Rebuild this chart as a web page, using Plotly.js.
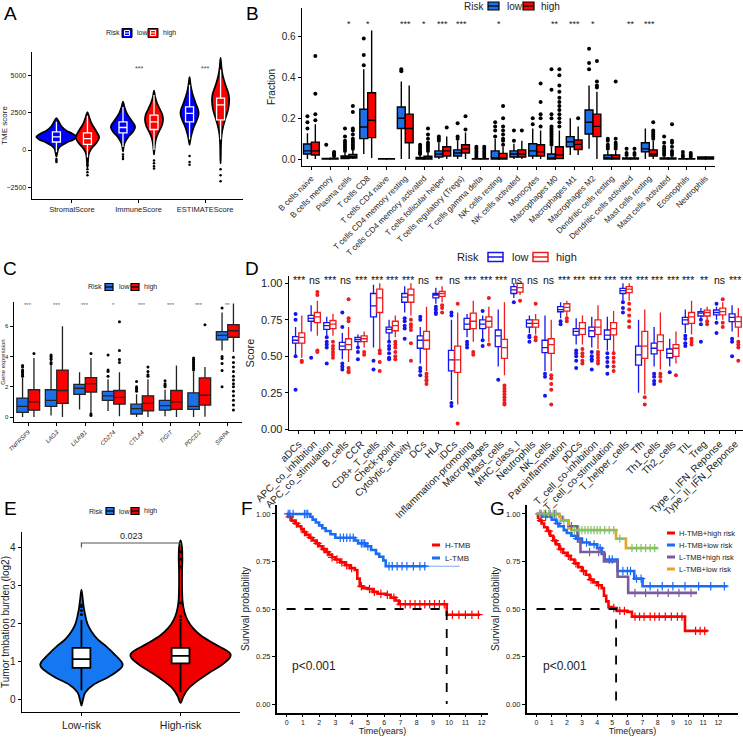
<!DOCTYPE html>
<html>
<head>
<meta charset="utf-8">
<script src="https://cdn.plot.ly/plotly-3.0.1.min.js"></script>
<style>
html, body { margin: 0; padding: 0; background: #fff; }
#fig { width: 743px; height: 738px; }
</style>
</head>
<body>
<div id="fig"></div>
<script>
// ---------- A: TME scores (violin profiles) ----------
const aCats = ['StromalScore', 'ImmuneScore', 'ESTIMATEScore'];
const aLowLevels = [
  [2150, 1900, 1600, 1300, 1100, 900, 700, 500, 300, 100, -200, -450],
  [3250, 2900, 2500, 2100, 1700, 1500, 1200, 900, 500, 200, -100],
  [4900, 4400, 3800, 3200, 2700, 2400, 2000, 1500, 1000, 600, 350]
];
const aLowDens = [
  [0, .12, .25, .5, .8, 1, .85, .5, .25, .1, .04, 0],
  [0, .07, .18, .36, .57, .6, .48, .27, .09, .03, 0],
  [0, .05, .14, .29, .43, .45, .36, .2, .09, .03, 0]
];
const aHighLevels = [
  [2550, 2200, 1800, 1400, 1000, 800, 500, 200, 0, -300, -700, -1200],
  [4000, 3600, 3200, 2800, 2400, 2000, 1600, 1200, 800, 400, 0, -300],
  [6200, 5600, 5000, 4400, 3800, 3400, 2800, 2200, 1600, 1000, 300, -400, -900]
];
const aHighDens = [
  [0, .09, .2, .38, .55, .58, .46, .26, .15, .06, .03, 0],
  [0, .05, .14, .27, .41, .45, .38, .23, .11, .05, .02, 0],
  [0, .04, .11, .24, .39, .43, .39, .26, .13, .05, .02, .01, 0]
];
const aLowQ1 = [540, 1150, 1900], aLowMed = [880, 1515, 2460], aLowQ3 = [1220, 1900, 2900];
const aLowLo = [-150, 200, 700], aLowHi = [1900, 2900, 4400];
const aHighQ1 = [385, 1380, 2030], aHighMed = [770, 1900, 3040], aHighQ3 = [1150, 2350, 3500];
const aHighLo = [-500, 0, 700], aHighHi = [2300, 3700, 5400];
const aLowOut = [[-600, -700, -800], [-300, -450, -600], [-400, -800, -1000]];
const aHighOut = [[-1050, -1300, -1500, -1700], [-700, -900, -1100, -1250], [-1300, -1700, -2100]];
const aSig = ['', '***', '***'];

// ---------- B: CIBERSORT fractions ----------
const bCats = ['B cells naive', 'B cells memory', 'Plasma cells', 'T cells CD8', 'T cells CD4 naive',
  'T cells CD4 memory resting', 'T cells CD4 memory activated', 'T cells follicular helper',
  'T cells regulatory (Tregs)', 'T cells gamma delta', 'NK cells resting', 'NK cells activated',
  'Monocytes', 'Macrophages M0', 'Macrophages M1', 'Macrophages M2', 'Dendritic cells resting',
  'Dendritic cells activated', 'Mast cells resting', 'Mast cells activated', 'Eosinophils', 'Neutrophils'];
const bSig = ['', '', '*', '*', '', '***', '*', '***', '***', '', '*', '', '', '**', '***', '*', '', '**', '***', '', '', ''];
const bLowQ1 = [.025, 0, .003, .1, 0, .15, 0, .01, .015, 0, 0, .01, .015, 0, .06, .123, 0, 0, .036, 0, 0, 0];
const bLowMed = [.04, 0, .008, .157, 0, .2, .002, .025, .03, 0, .005, .025, .04, .005, .085, .18, .005, 0, .05, 0, 0, .002];
const bLowQ3 = [.074, .003, .015, .244, .002, .255, .008, .04, .045, .002, .04, .04, .075, .025, .11, .24, .02, .005, .08, .005, .002, .01];
const bLowLo = [0, 0, 0, .025, 0, 0, 0, 0, 0, 0, 0, 0, 0, 0, .02, .05, 0, 0, 0, 0, 0, 0];
const bLowHi = [.126, .006, .03, .44, .003, .38, .018, .08, .09, .005, .1, .075, .15, .06, .2, .36, .04, .01, .15, .01, .004, .012];
const bLowOut = [[.15, .18, .21], [.07], [.04, .05, .06, .07, .08, .09, .11, .15], [.46, .51, .59], [],
  [.43, .44], [.025, .03, .035, .04, .05, .06, .07], [.09, .1, .11], [.1, .11, .175], [.01, .02, .03, .04, .05, .06],
  [.11, .14, .16, .18], [.09, .14], [.17, .2], [.07, .08, .09, .1, .11, .12, .13, .14, .15, .16, .2, .22, .34, .44],
  [], [.44, .47, .54], [.05, .06, .07, .09, .1], [.02, .03, .05], [], [.02, .03, .04, .05, .06, .08, .11],
  [.01, .02, .035], []];
const bHighQ1 = [.02, 0, .005, .105, 0, .08, 0, .015, .03, 0, 0, .01, .015, .003, .047, .11, 0, 0, .015, 0, 0, 0];
const bHighMed = [.04, 0, .012, .19, 0, .15, .004, .04, .05, 0, .005, .025, .035, .02, .072, .16, .005, 0, .025, 0, 0, .002];
const bHighQ3 = [.083, .004, .022, .325, .002, .22, .014, .06, .07, .002, .028, .045, .07, .06, .093, .22, .02, .005, .045, .005, .002, .01];
const bHighLo = [0, 0, 0, .005, 0, 0, 0, 0, 0, 0, 0, 0, 0, 0, .02, 0, 0, 0, 0, 0, 0, 0];
const bHighHi = [.17, .01, .045, .63, .003, .36, .03, .11, .13, .005, .06, .09, .14, .14, .16, .33, .04, .01, .09, .01, .004, .012];
const bHighOut = [[.19, .22, .32, .505], [.015, .02, .025, .03, .035], [.05, .06, .07, .08, .09, .1, .12, .14, .15, .23, .26], [], [],
  [], [.04, .05, .06, .07, .08, .1, .12, .15], [.155], [.145, .21], [.01, .02, .03, .04, .05, .06],
  [.07, .09, .1, .12, .14, .16, .2, .26], [.14], [.16, .2, .22, .28, .37],
  [.16, .18, .2, .22, .24, .26, .28, .3, .33, .36, .41, .44], [.2], [.35, .36, .38, .48],
  [.05, .06, .07, .08, .1, .38], [.02, .03, .05], [.1, .11, .12, .13, .14, .18], [.02, .03, .04, .06, .08, .09, .17],
  [.01, .02, .03], []];

// ---------- C: immune checkpoint gene expression ----------
const cCats = ['TNFRSF9', 'LAG3', 'LILRB1', 'CD274', 'CTLA4', 'TIGIT', 'PDCD1', 'SIRPA'];
const cSig = ['***', '***', '***', '*', '***', '***', '***', '**'];
const cLowQ1 = [.3, .7, 1.5, 1.1, .2, .45, .5, 5.1];
const cLowMed = [.7, 1.1, 1.9, 1.4, .55, .75, .7, 5.4];
const cLowQ3 = [1.25, 1.8, 2.15, 1.7, .85, 1.1, 1.6, 5.64];
const cLowLo = [0, .1, .5, .4, 0, .05, 0, 4.4];
const cLowHi = [2.6, 3.4, 2.95, 2.5, 1.5, 1.8, 3.0, 6.9];
const cLowOut = [[2.7, 2.8, 2.9, 3.0, 3.1, 3.3, 3.4], [3.5, 3.6, 3.8, 3.9, 4.0, 4.1], [], [2.7, 3.0, 3.1, 4.1],
  [1.7, 1.8, 1.9, 2.0, 2.35], [2.0, 2.1, 2.2, 2.4], [3.1, 3.2, 3.3, 3.4, 3.5, 3.6, 3.7, 3.8, 3.9],
  [7.2, 4.0, 3.87, 3.54, 3.08, 2.0]];
const cHighQ1 = [.45, .9, 1.65, .85, .4, .5, .79, 5.27];
const cHighMed = [1.0, 1.75, 2.2, 1.3, .9, 1.0, 1.44, 5.7];
const cHighQ3 = [1.8, 3.1, 2.6, 1.75, 1.4, 1.75, 2.58, 6.1];
const cHighLo = [0, 0, .25, .05, 0, 0, .02, 4.3];
const cHighHi = [3.9, 6.0, 3.9, 2.95, 2.5, 3.4, 3.3, 7.5];
const cHighOut = [[4.2], [], [4.2, .1, .2], [3.6, 3.8, 4.4, 6.3], [2.7, 2.8, 3.0, 3.3], [], [6.1],
  [3.95, 3.6, 3.3, 3.0, 2.7, 2.45, 2.2, 2.0, 1.7, 1.4, 1.1, .8, .46]];

// ---------- D: ssGSEA scores ----------
const dCats = ['aDCs', 'APC_co_inhibition', 'APC_co_stimulation', 'B_cells', 'CCR', 'CD8+_T_cells',
  'Check-point', 'Cytolytic_activity', 'DCs', 'HLA', 'iDCs', 'Inflammation-promoting', 'Macrophages',
  'Mast_cells', 'MHC_class_I', 'Neutrophils', 'NK_cells', 'Parainflammation', 'pDCs',
  'T_cell_co-inhibition', 'T_cell_co-stimulation', 'T_helper_cells', 'Tfh', 'Th1_cells', 'Th2_cells',
  'TIL', 'Treg', 'Type_I_IFN_Reponse', 'Type_II_IFN_Reponse'];
const dSig = ['***', 'ns', '***', 'ns', '***', '***', '***', '***', 'ns', '**', 'ns', '***', '***', '***',
  'ns', 'ns', 'ns', '***', '***', '***', '***', '***', '***', '***', '***', '***', '**', 'ns', '***'];
const dLowQ1 = [.59, .74, .685, .545, .60, .77, .66, .87, .555, .90, .40, .685, .69, .566, .93, .70, .525, .805, .645, .635, .616, .93, .44, .516, .49, .72, .776, .783, .737];
const dLowMed = [.61, .76, .71, .57, .615, .845, .685, .905, .61, .92, .475, .72, .72, .64, .955, .725, .56, .82, .67, .675, .645, .95, .51, .555, .52, .75, .795, .80, .767];
const dLowQ3 = [.635, .78, .73, .595, .63, .93, .70, .93, .64, .93, .54, .76, .75, .68, .977, .75, .61, .84, .69, .70, .68, .965, .57, .59, .55, .767, .806, .817, .79];
const dLowLo = [.51, .67, .64, .48, .57, .56, .61, .80, .45, .86, .20, .63, .62, .43, .90, .66, .40, .76, .58, .56, .54, .88, .25, .43, .43, .66, .76, .75, .67];
const dLowHi = [.70, .85, .77, .66, .65, .99, .75, .98, .70, .97, .75, .79, .78, .82, 1.0, .78, .78, .87, .76, .77, .77, 1.0, .75, .70, .62, .82, .83, .84, .85];
const dLowOut = [[.79, .75, .50, .27], [.49], [.63, .60, .58, .56, .45], [.80, .70, .45, .43, .41], [.56, .53, .48],
  [.47, .41], [.60, .57, .55, .52, .49, .48], [.76, .74, .71, .69, .62], [.77, .75, .42, .40, .37], [.84, .82, .80, .79],
  [.80, .78, .18, .16], [.60, .58, .56], [.81, .61, .57], [.34], [.87], [.64, .63, .60], [.38, .36, .23], [.74, .72],
  [.54, .52, .50, .47, .42], [.53, .50, .48, .47, .41], [.52, .49, .46, .43, .38], [.87, .83, .80], [],
  [.38, .36, .33, .31], [.39], [.64, .62, .59, .57], [.75, .72, .60], [.86, .73, .66], [.62, .60, .50]];
const dHighQ1 = [.59, .73, .69, .545, .60, .80, .675, .87, .55, .91, .39, .69, .70, .486, .94, .70, .52, .81, .65, .65, .646, .936, .486, .54, .50, .726, .776, .783, .70];
const dHighMed = [.63, .77, .72, .58, .62, .90, .71, .92, .61, .93, .475, .74, .74, .56, .97, .725, .58, .835, .69, .70, .69, .96, .57, .60, .555, .77, .80, .806, .737];
const dHighQ3 = [.66, .80, .745, .62, .64, .96, .74, .96, .67, .945, .57, .795, .77, .616, 1.0, .75, .62, .86, .73, .75, .73, .977, .67, .646, .58, .80, .816, .83, .77];
const dHighLo = [.49, .64, .64, .46, .56, .55, .63, .78, .40, .87, .17, .60, .60, .37, .92, .65, .40, .77, .58, .55, .53, .88, .24, .41, .45, .65, .75, .75, .63];
const dHighHi = [.78, .88, .79, .70, .67, 1.0, .78, 1.0, .84, .98, .80, .88, .84, .87, 1.0, .79, .75, .88, .78, .85, .81, 1.0, .82, .80, .67, .88, .84, .87, .83];
const dHighOut = [[.47, .46], [.94, .92, .54, .53], [.60, .57, .55, .53, .51, .49], [.89, .76, .74, .42, .40, .39], [.53, .51],
  [.54, .52, .46, .40], [.60, .58, .56, .53, .50, .48], [.75, .72, .70, .68, .59, .47], [.38, .36, .34, .33, .31], [.85, .83, .80],
  [.86, .04], [.53, .51], [.90, .58], [.30, .28, .26, .24, .22, .20, .18, .17], [.88], [.86, .63, .61],
  [.37, .35, .31, .27, .17], [.76, .74], [.55, .52, .50, .47, .45], [.53, .51, .49, .47, .45], [.52, .49, .46, .43, .40],
  [.86, .82, .78, .74, .70], [.22, .17], [.38, .36, .33], [.37], [.62, .60, .58], [.74, .72], [.89, .73, .70],
  [.60, .58, .56, .47]];

// ---------- E: tumor mutation burden ----------
const eCats = ['Low-risk', 'High-risk'];
const eLowLevels = [2.9, 2.6, 2.4, 2.2, 2.0, 1.8, 1.6, 1.4, 1.2, 1.0, 0.9, 0.8, 0.6, 0.4, 0.2, 0, -0.15];
const eLowDens = [0, .03, .05, .08, .12, .2, .32, .5, .66, .8, .82, .76, .54, .24, .08, .03, 0];
const eHighLevels = [4.2, 4.0, 3.7, 3.4, 3.0, 2.6, 2.3, 2.1, 1.9, 1.7, 1.5, 1.3, 1.2, 1.1, 0.9, 0.7, 0.5, 0.3, 0.1, -0.08];
const eHighDens = [0, .03, .036, .03, .03, .04, .08, .14, .24, .4, .64, .92, 1, .98, .8, .56, .34, .16, .06, 0];
const eQ1 = [.84, .96], eMed = [1.07, 1.16], eQ3 = [1.37, 1.37], eLo = [.25, .2], eHi = [2.1, 2.05];
const eOut = [[2.25, 2.35, 2.45, 2.5], [2.1, 2.2, 2.55, 3.5, 3.7, 3.9, 4.05]];
const ePValue = '0.023';
const eBracketY = 4.13;

// ---------- F: KM by TMB ----------
const fNames = ['H-TMB', 'L-TMB'];
const fHighT = [0, .1, .3, .5, .7, .9, 1.0, 1.2, 1.4, 1.6, 1.8, 2.0, 2.2, 2.4, 2.6, 2.8, 3.0, 3.3, 3.6, 3.9, 4.2, 4.35, 4.5, 4.7, 5.0, 5.3, 5.6, 6.1, 6.4, 6.7, 6.9, 9.85, 11.9];
const fHighS = [1, .985, .965, .95, .935, .92, .905, .89, .875, .86, .845, .83, .815, .8, .785, .772, .76, .745, .73, .715, .705, .66, .62, .61, .605, .59, .58, .575, .56, .545, .525, .47, .47];
const fLowT = [0, 1.45, 1.6, 1.8, 2.0, 2.2, 2.4, 2.7, 3.0, 4.2, 4.4, 4.9, 5.2, 5.5, 5.7, 5.95, 6.1, 8.6];
const fLowS = [1, .985, .97, .955, .94, .925, .91, .893, .875, .86, .845, .83, .81, .79, .775, .755, .725, .725];
const fLowLastT = 10.65;
const fHighCens = [.2, .6, 1.1, 1.5, 1.9, 2.3, 2.5, 2.8, 3.1, 3.4, 3.7, 4.0, 4.6, 5.1, 5.4, 5.8, 6.2, 6.6, 7.0, 7.3, 7.6, 7.9, 8.2, 8.5, 8.8, 9.1, 9.4, 9.7, 10.2, 10.6, 11.0, 11.4, 11.8];
const fLowCens = [.1, .2, .4, 1.1, 1.2, 1.3, 3.3, 3.5, 3.7, 3.9, 4.1, 4.6, 4.7, 4.8, 5.0, 6.3, 6.5, 6.8, 7.1, 7.4, 7.8, 8.2, 8.5];
const fMedian = 9.85;

// ---------- G: KM by TMB + risk ----------
const gNames = ['H-TMB+high risk', 'H-TMB+low risk', 'L-TMB+high risk', 'L-TMB+low risk'];
const gRedT = [0, .1, .2, .35, .5, .7, .9, 1.1, 1.3, 1.5, 1.75, 2.0, 2.25, 2.5, 2.75, 3.0, 3.25, 3.5, 3.75, 4.0, 4.3, 4.45, 4.6, 4.75, 5.0, 5.3, 6.0, 6.3, 9.8, 11.3];
const gRedS = [1, .98, .965, .95, .93, .91, .885, .86, .84, .815, .795, .78, .76, .74, .72, .70, .68, .655, .64, .625, .61, .57, .54, .51, .505, .49, .485, .46, .385, .385];
const gBlueT = [0, .4, 1.0, 1.3, 1.5, 1.8, 2.0, 2.3, 2.6, 3.0, 3.5, 4.0, 4.3, 4.5, 5.35, 6.45, 7.0, 12.6];
const gBlueS = [1, .985, .97, .95, .935, .915, .9, .885, .87, .85, .84, .82, .79, .76, .70, .66, .62, .62];
const gPurpleT = [0, 1.5, 1.7, 2.1, 2.7, 2.75, 2.9, 4.45, 5.35, 6.05, 10.6];
const gPurpleS = [1, .985, .965, .935, .9, .855, .80, .75, .67, .585, .585];
const gOrangeT = [0, 1.5, 1.6, 2.1, 2.3, 5.25, 5.9, 8.0];
const gOrangeS = [1, .985, .965, .925, .915, .87, .82, .82];
const gRedCens = [.3, .8, 1.2, 1.6, 2.1, 2.6, 3.1, 3.6, 4.1, 5.1, 5.5, 5.8, 6.5, 6.8, 7.1, 7.5, 7.8, 8.1, 8.5, 8.9, 9.3, 9.6, 10.5, 10.8, 11.1];
const gBlueCens = [.2, .6, 1.4, 2.7, 3.3, 3.8, 4.2, 4.8, 5.0, 5.7, 6.0, 6.2, 6.6, 6.9, 7.5, 8.3, 9.0, 9.8, 10.7, 11.5, 12.4];
const gPurpleCens = [.3, .6, .9, 1.2, 2.3, 3.5, 4.1, 6.5, 7.2, 8.0, 8.7, 9.4, 10.2];
const gOrangeCens = [.2, .5, .8, 1.1, 1.3, 1.8, 2.5, 2.8, 3.0, 3.2, 3.4, 3.6, 3.8, 4.0, 4.2, 4.5, 4.8, 5.1, 5.5, 6.3, 6.6, 6.9, 7.2, 7.5, 7.8];
const gMedian = 5.25;
const pText = 'p<0.001';

// ---------- helpers ----------
const W = 743, H = 738;
const FONT = 'Liberation Sans, Arial, sans-serif';
const px = (a, b) => [a / W, b / W];
const py = (top, bottom) => [1 - bottom / H, 1 - top / H];
const shapes = [];
const annotations = [];

// violin outline as a smooth closed path in data coordinates (drawn under the boxes)
function violinShape(center, levels, dens, scale, xa, ya, fill, lw) {
  let pts = [];
  levels.forEach((v, i) => pts.push([center + dens[i] * scale, v]));
  for (let i = levels.length - 1; i >= 0; i--) pts.push([center - dens[i] * scale, levels[i]]);
  pts = pts.filter((p, i) => { const q = pts[(i + 1) % pts.length]; return !(q[0] === p[0] && q[1] === p[1]); });
  const n = pts.length;
  let d = 'M' + pts[0][0] + ',' + pts[0][1];
  for (let i = 0; i < n; i++) {
    const p0 = pts[(i - 1 + n) % n], p1 = pts[i], p2 = pts[(i + 1) % n], p3 = pts[(i + 2) % n];
    const c1 = [p1[0] + (p2[0] - p0[0]) / 6, p1[1] + (p2[1] - p0[1]) / 6];
    const c2 = [p2[0] - (p3[0] - p1[0]) / 6, p2[1] - (p3[1] - p1[1]) / 6];
    d += ' C' + c1[0] + ',' + c1[1] + ' ' + c2[0] + ',' + c2[1] + ' ' + p2[0] + ',' + p2[1];
  }
  shapes.push({type: 'path', xref: xa, yref: ya, path: d + ' Z', fillcolor: fill,
    line: {color: 'black', width: lw}, layer: 'below'});
}

function boxes(pos, q1, med, q3, lo, hi, opt) {
  return Object.assign({type: 'box', x: pos, q1: q1, median: med, q3: q3,
    lowerfence: lo, upperfence: hi, boxpoints: false, whiskerwidth: 0, hoverinfo: 'skip'}, opt);
}

function dots(pos, lists, xa, ya, color, size) {
  const x = [], y = [];
  lists.forEach((l, i) => l.forEach(v => { x.push(pos[i]); y.push(v); }));
  return {type: 'scatter', mode: 'markers', x: x, y: y, xaxis: xa, yaxis: ya,
    marker: {color: color, size: size}, hoverinfo: 'skip'};
}

function survAt(T, S, t) {
  let s = S[0];
  for (let i = 0; i < T.length; i++) if (T[i] <= t) s = S[i];
  return s;
}

function kmCurve(T, S, xa, ya, color, name) {
  return {type: 'scatter', mode: 'lines', x: T, y: S, xaxis: xa, yaxis: ya, name: name,
    line: {color: color, width: 2.6, shape: 'hv'}, hoverinfo: 'skip'};
}

function kmCens(T, S, cens, xa, ya, color) {
  return {type: 'scatter', mode: 'markers', x: cens, y: cens.map(t => survAt(T, S, t)),
    xaxis: xa, yaxis: ya, hoverinfo: 'skip',
    marker: {symbol: 'cross-thin', size: 6, line: {color: color, width: 1.2}}};
}

const shift = (arr, d) => arr.map((_, i) => i + d);
const traces = [];

// A
const aBlue = '#0000ff', aRed = '#ff0000';
aCats.forEach((c, i) => {
  violinShape(i - 0.233, aLowLevels[i], aLowDens[i], 0.3, 'x', 'y', aBlue, 1.8);
  violinShape(i + 0.233, aHighLevels[i], aHighDens[i], 0.3, 'x', 'y', aRed, 1.8);
});
traces.push(boxes(shift(aCats, -0.233), aLowQ1, aLowMed, aLowQ3, aLowLo, aLowHi,
  {xaxis: 'x', yaxis: 'y', width: 0.12, fillcolor: aBlue, line: {color: 'white', width: 1.3}, name: 'low'}));
traces.push(boxes(shift(aCats, 0.233), aHighQ1, aHighMed, aHighQ3, aHighLo, aHighHi,
  {xaxis: 'x', yaxis: 'y', width: 0.12, fillcolor: aRed, line: {color: 'white', width: 1.3}, name: 'high'}));
traces.push(dots(shift(aCats, -0.233), aLowOut, 'x', 'y', 'black', 2.5));
traces.push(dots(shift(aCats, 0.233), aHighOut, 'x', 'y', 'black', 2.5));

// B
const bBlue = '#1c6fe6', bRed = '#ff0000';
traces.push(boxes(shift(bCats, -0.21), bLowQ1, bLowMed, bLowQ3, bLowLo, bLowHi,
  {xaxis: 'x2', yaxis: 'y2', width: 0.42, fillcolor: bBlue, line: {color: 'black', width: 1.4}, name: 'low'}));
traces.push(boxes(shift(bCats, 0.21), bHighQ1, bHighMed, bHighQ3, bHighLo, bHighHi,
  {xaxis: 'x2', yaxis: 'y2', width: 0.42, fillcolor: bRed, line: {color: 'black', width: 1.4}, name: 'high'}));
traces.push(dots(shift(bCats, -0.21), bLowOut, 'x2', 'y2', 'black', 4));
traces.push(dots(shift(bCats, 0.21), bHighOut, 'x2', 'y2', 'black', 4));

// C
traces.push(boxes(shift(cCats, -0.2), cLowQ1, cLowMed, cLowQ3, cLowLo, cLowHi,
  {xaxis: 'x3', yaxis: 'y3', width: 0.4, fillcolor: bBlue, line: {color: '#222', width: 1.3}, name: 'low'}));
traces.push(boxes(shift(cCats, 0.2), cHighQ1, cHighMed, cHighQ3, cHighLo, cHighHi,
  {xaxis: 'x3', yaxis: 'y3', width: 0.4, fillcolor: bRed, line: {color: '#222', width: 1.3}, name: 'high'}));
traces.push(dots(shift(cCats, -0.2), cLowOut, 'x3', 'y3', 'black', 3));
traces.push(dots(shift(cCats, 0.2), cHighOut, 'x3', 'y3', 'black', 3));

// D
const dBlue = '#1515ee', dRed = '#ee1c1c';
traces.push(boxes(shift(dCats, -0.2), dLowQ1, dLowMed, dLowQ3, dLowLo, dLowHi,
  {xaxis: 'x4', yaxis: 'y4', width: 0.38, fillcolor: 'white', line: {color: dBlue, width: 1.3}, name: 'low'}));
traces.push(boxes(shift(dCats, 0.2), dHighQ1, dHighMed, dHighQ3, dHighLo, dHighHi,
  {xaxis: 'x4', yaxis: 'y4', width: 0.38, fillcolor: 'white', line: {color: dRed, width: 1.3}, name: 'high'}));
traces.push(dots(shift(dCats, -0.2), dLowOut, 'x4', 'y4', dBlue, 4));
traces.push(dots(shift(dCats, 0.2), dHighOut, 'x4', 'y4', dRed, 4));

// E
const eBlue = '#1677f2', eRed = '#f00000';
violinShape(0, eLowLevels, eLowDens, 0.505, 'x5', 'y5', eBlue, 1.8);
violinShape(1, eHighLevels, eHighDens, 0.505, 'x5', 'y5', eRed, 1.8);
traces.push(dots([0, 1], eOut, 'x5', 'y5', 'black', 3));
traces.push(boxes([0, 1], eQ1, eMed, eQ3, eLo, eHi,
  {xaxis: 'x5', yaxis: 'y5', width: 0.18, fillcolor: 'white', line: {color: 'black', width: 1.8}}));
traces.push({type: 'scatter', mode: 'lines', x: [0, 0, 1, 1], y: [eBracketY - 0.12, eBracketY, eBracketY, eBracketY - 0.12],
  xaxis: 'x5', yaxis: 'y5', line: {color: '#555', width: 1.2}, hoverinfo: 'skip'});

// F
const kmRed = '#ff0000', kmBlue = '#1a6cf5', kmPurple = '#7a5c9e', kmOrange = '#e8a521', kmGreen = '#7cc36a';
traces.push(kmCurve(fHighT, fHighS, 'x6', 'y6', kmRed, fNames[0]));
traces.push(kmCurve(fLowT, fLowS, 'x6', 'y6', kmBlue, fNames[1]));
traces.push({type: 'scatter', mode: 'lines', x: [fLowT[fLowT.length - 1], fLowLastT],
  y: [fLowS[fLowS.length - 1], fLowS[fLowS.length - 1]], xaxis: 'x6', yaxis: 'y6',
  line: {color: '#7aa8f0', width: 1}, hoverinfo: 'skip'});
traces.push(kmCens(fHighT, fHighS, fHighCens, 'x6', 'y6', kmRed));
traces.push(kmCens(fLowT, fLowS, fLowCens, 'x6', 'y6', kmBlue));
traces.push({type: 'scatter', mode: 'lines', x: [0, fMedian, fMedian], y: [0.5, 0.5, 0],
  xaxis: 'x6', yaxis: 'y6', line: {color: 'black', width: 1.8, dash: 'dash'}, hoverinfo: 'skip'});

// G
const gColors = [kmRed, kmBlue, kmPurple, kmOrange];
traces.push(kmCurve(gRedT, gRedS, 'x7', 'y7', kmRed, gNames[0]));
traces.push(kmCurve(gBlueT, gBlueS, 'x7', 'y7', kmBlue, gNames[1]));
traces.push(kmCurve(gPurpleT, gPurpleS, 'x7', 'y7', kmPurple, gNames[2]));
traces.push(kmCurve(gOrangeT, gOrangeS, 'x7', 'y7', kmOrange, gNames[3]));
traces.push(kmCens(gRedT, gRedS, gRedCens, 'x7', 'y7', kmRed));
traces.push(kmCens(gBlueT, gBlueS, gBlueCens, 'x7', 'y7', kmBlue));
traces.push(kmCens(gPurpleT, gPurpleS, gPurpleCens, 'x7', 'y7', kmPurple));
traces.push(kmCens(gOrangeT, gOrangeS, gOrangeCens, 'x7', 'y7', kmGreen));
traces.push({type: 'scatter', mode: 'lines', x: [0, gMedian, gMedian], y: [0.5, 0.5, 0],
  xaxis: 'x7', yaxis: 'y7', line: {color: 'black', width: 1.8, dash: 'dash'}, hoverinfo: 'skip'});

// ---------- keys (compact, ggplot-like) ----------
const tf = (size, extra) => Object.assign({family: FONT, size: size, color: '#222'}, extra || {});
function ptext(text, x, y, size, anchor) {
  annotations.push({text: text, xref: 'paper', yref: 'paper', x: x / W, y: 1 - y / H, showarrow: false,
    xanchor: anchor || 'left', yanchor: 'middle', font: tf(size)});
}
function prect(x0, x1, y0, y1, fill, color, w) {
  shapes.push({type: 'rect', xref: 'paper', yref: 'paper', x0: x0 / W, x1: x1 / W, y0: 1 - y1 / H, y1: 1 - y0 / H,
    fillcolor: fill, line: {color: color, width: w}});
}
function pline(x0, x1, y0, y1, color, w) {
  shapes.push({type: 'line', xref: 'paper', yref: 'paper', x0: x0 / W, x1: x1 / W, y0: 1 - y0 / H, y1: 1 - y1 / H,
    line: {color: color, width: w}});
}
// style: 'violin' (A), 'filled' (B, C, E), 'open' (D)
function riskKey(y, riskX, size, iconX, iconW, iconH, textX, fills, style) {
  ptext('Risk', riskX, y, size);
  ['low', 'high'].forEach((lab, i) => {
    const x0 = iconX[i], x1 = x0 + iconW, c = fills[i];
    if (style === 'open') {
      prect(x0, x1, y - iconH / 2, y + iconH / 2, 'white', c, 1.5);
      pline(x0, x1, y, y, c, 1.5);
    } else if (style === 'violin') {
      prect(x0, x1, y - iconH / 2, y + iconH / 2, c, 'black', 1);
      prect(x0 + 2.5, x1 - 2.5, y - iconH / 2 + 2, y + iconH / 2 - 2, c, 'white', 1);
      pline(x0 + 2.5, x1 - 2.5, y, y, 'white', 1);
    } else {
      prect(x0, x1, y - iconH / 2, y + iconH / 2, c, 'black', 1.2);
      pline(x0, x1, y, y, 'black', 1.2);
    }
    ptext(lab, textX[i], y, size);
  });
}
riskKey(33, 104, 7, [122, 148], 10, 9, [135, 161], [aBlue, aRed], 'violin');
riskKey(6, 462, 10, [488, 523], 11, 8, [505, 539], [bBlue, bRed], 'filled');
riskKey(287, 86, 7, [105, 131], 8, 7, [117, 142], [bBlue, bRed], 'filled');
riskKey(257, 455, 11, [488, 533], 15, 9, [510, 554], [dBlue, dRed], 'open');
riskKey(511, 87, 7, [106, 131], 8, 7, [117, 142], [eBlue, eRed], 'filled');

function kmKey(names, colors, x0, x1, tx, y0, dy, size) {
  names.forEach((n, i) => {
    const y = y0 + i * dy;
    pline(x0, x1, y, y, colors[i], 3);
    ptext(n, tx, y, size);
  });
}
kmKey(fNames, [kmRed, kmBlue], 432, 440, 443, 545, 13, 8);
kmKey(gNames, gColors, 667, 675, 677, 533, 12, 7.5);

// ---------- layout ----------
function ax(extra) {
  return Object.assign({showline: true, linecolor: 'black', linewidth: 1.4, ticks: 'outside', ticklen: 3,
    tickcolor: 'black', tickwidth: 1, showgrid: false, zeroline: false, automargin: false,
    tickfont: tf(8)}, extra);
}
const idx = arr => arr.map((_, i) => i);

[['A', 10, 14], ['B', 252, 14], ['C', 10, 268], ['D', 252, 268], ['E', 10, 508], ['F', 247, 508], ['G', 497, 508]]
  .forEach(([t, x, y]) => annotations.push({text: t, xref: 'paper', yref: 'paper', x: x / W, y: 1 - y / H,
    showarrow: false, xanchor: 'center', yanchor: 'middle', font: {family: FONT, size: 19, color: 'black'}}));
aSig.forEach((s, i) => { if (s) annotations.push({text: s, xref: 'x', yref: 'y', x: i, y: 5470, showarrow: false,
  font: tf(7, {color: '#444'})}); });
bSig.forEach((s, i) => { if (s) annotations.push({text: s, xref: 'x2', yref: 'y2', x: i, y: 0.66, showarrow: false,
  font: tf(9)}); });
cSig.forEach((s, i) => annotations.push({text: s, xref: 'x3', yref: 'y3', x: i, y: 7.4, showarrow: false,
  font: tf(6, {color: '#666'})}));
dSig.forEach((s, i) => annotations.push({text: s, xref: 'x4', yref: 'y4', x: i, y: 1.02, showarrow: false,
  font: tf(10.5, {color: '#111'})}));
annotations.push({text: ePValue, xref: 'x5', yref: 'y5', x: 0.5, y: eBracketY, yanchor: 'bottom', showarrow: false,
  font: tf(9)});
annotations.push({text: pText, xref: 'x6', yref: 'y6', x: 0.2, y: 0.2, xanchor: 'left', showarrow: false, font: tf(12)});
annotations.push({text: pText, xref: 'x7', yref: 'y7', x: 0.28, y: 0.2, xanchor: 'left', showarrow: false, font: tf(12)});

const survTicks = {tickvals: [0, .25, .5, .75, 1], ticktext: ['0.00', '0.25', '0.50', '0.75', '1.00']};
const years = Array.from({length: 13}, (_, i) => i);

const layout = {
  width: W, height: H, margin: {l: 0, r: 0, t: 0, b: 0},
  paper_bgcolor: 'white', plot_bgcolor: 'white', boxmode: 'overlay', showlegend: false,
  font: {family: FONT},
  annotations: annotations,
  shapes: shapes,

  xaxis: ax({domain: px(32, 243), anchor: 'y', range: [-0.6, 2.57], tickvals: idx(aCats), ticktext: aCats,
    tickfont: tf(7.5)}),
  yaxis: ax({domain: py(52, 199), anchor: 'x', range: [-3300, 6600], tickvals: [-2500, 0, 2500, 5000],
    tickfont: tf(7), title: {text: 'TME score', font: tf(8), standoff: 3}}),

  xaxis2: ax({domain: px(302, 715), anchor: 'y2', range: [-0.5, 21.5], tickvals: idx(bCats), ticktext: bCats,
    tickangle: -45, tickfont: tf(8.2)}),
  yaxis2: ax({domain: py(8, 166), anchor: 'x2', range: [-0.034, 0.74], tickvals: [0, .2, .4, .6],
    ticktext: ['0.0', '0.2', '0.4', '0.6'], tickfont: tf(10), title: {text: 'Fraction', font: tf(10), standoff: 4}}),

  xaxis3: ax({domain: px(14, 242), anchor: 'y3', range: [-0.5, 7.5], tickvals: idx(cCats), ticktext: cCats,
    tickangle: -45, tickfont: tf(6, {style: 'italic'})}),
  yaxis3: ax({domain: py(302, 422), anchor: 'x3', range: [-0.33, 7.6], tickvals: [0, 2, 4, 6],
    tickfont: tf(6), title: {text: 'Gene expression', font: tf(6), standoff: 2}}),

  xaxis4: ax({domain: px(289, 743), anchor: 'y4', range: [-0.62, 28.5], tickvals: idx(dCats), ticktext: dCats,
    tickangle: -45, tickfont: tf(10)}),
  yaxis4: ax({domain: py(276, 430), anchor: 'x4', range: [-0.005, 1.05], tickvals: [0, .25, .5, .75, 1],
    ticktext: ['0.00', '0.25', '0.50', '0.75', '1.00'], tickfont: tf(11), title: {text: 'Score', font: tf(11), standoff: 4}}),

  xaxis5: ax({domain: px(22, 240), anchor: 'y5', range: [-0.6, 1.6], tickvals: [0, 1], ticktext: eCats,
    tickfont: tf(10.5)}),
  yaxis5: ax({domain: py(532, 712), anchor: 'x5', range: [-0.32, 4.42], tickvals: [0, 1, 2, 3, 4],
    tickfont: tf(10), title: {text: 'Tumor tmbation burden (log2)', font: tf(10), standoff: 4}}),

  xaxis6: ax({domain: px(277, 488), anchor: 'y6', range: [-0.59, 12.39], tickvals: years, tickfont: tf(7),
    ticklen: 2, linewidth: 2, title: {text: 'Time(years)', font: tf(9), standoff: 1}}),
  yaxis6: ax(Object.assign({domain: py(505, 713), anchor: 'x6', range: [-0.047, 1.047], tickfont: tf(7.5),
    linewidth: 2, title: {text: 'Survival probability', font: tf(10), standoff: 4}}, survTicks)),

  xaxis7: ax({domain: px(527, 738), anchor: 'y7', range: [-0.63, 13.3], tickvals: years, tickfont: tf(7),
    ticklen: 2, linewidth: 2, title: {text: 'Time(years)', font: tf(9), standoff: 1}}),
  yaxis7: ax(Object.assign({domain: py(505, 713), anchor: 'x7', range: [-0.047, 1.047], tickfont: tf(7.5),
    linewidth: 2, title: {text: 'Survival probability', font: tf(10), standoff: 4}}, survTicks))
};

Plotly.newPlot('fig', traces, layout, {staticPlot: true, displayModeBar: false});
</script>
</body>
</html>
